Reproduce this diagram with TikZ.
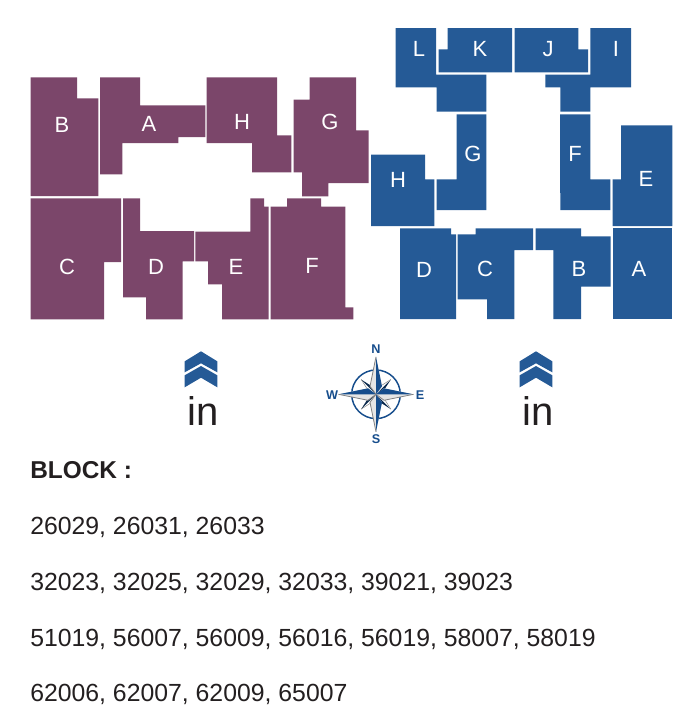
\documentclass[tikz,border=0pt]{standalone}
\usepackage{fontspec}
\setmainfont{Liberation Sans}
\usepackage{tikz}
\definecolor{plumcolor}{RGB}{123,70,106}
\definecolor{seacolor}{RGB}{37,90,150}
\definecolor{inkcolor}{RGB}{35,31,32}
\definecolor{ringcolor}{RGB}{22,77,140}
\tikzset{
  % site plan lots
  lotplum/.style={fill=plumcolor, draw=none},
  lotsea/.style={fill=seacolor, draw=none},
  lotlabel/.style={text=white, font=\fontsize{16.5}{18}\selectfont, inner sep=0pt},
  % entrance markers
  chevron/.style={fill=seacolor, draw=none},
  inlabel/.style={text=inkcolor, font=\fontsize{30}{32}\selectfont, inner sep=0pt, anchor=base},
  % compass rose
  compasslabel/.style={text=ringcolor, font=\fontsize{9.5}{11}\selectfont\bfseries, inner sep=0pt},
  % list of block numbers
  listline/.style={text=inkcolor, font=\fontsize{18.6}{20}\selectfont, inner sep=0pt, anchor=base west},
}
\newcommand{\entrymark}[3]{%
  \fill[chevron] (#1-16.3,361.3) -- (#1,351.3) -- (#1+16.3,361.3) -- (#1+16.3,372.3) -- (#1,363.3) -- (#1-16.3,372.3) -- cycle;
  \fill[chevron] (#1-16.3,375.3) -- (#1,366) -- (#1+16.3,375.3) -- (#1+16.3,387.3) -- (#1,377.7) -- (#1-16.3,387.3) -- cycle;
  \node[inlabel] (#2) at (#1+2,#3) {in};
}
\begin{document}
\begin{tikzpicture}[x=0.75pt, y=-0.75pt]
  \useasboundingbox (0,0) rectangle (700,722);
  % left group
  \fill[lotplum] (30.7,77.3) -- (77,77.3) -- (77,98.3) -- (98.3,98.3) -- (98.3,196) -- (30.7,196) -- cycle;
  \fill[lotplum] (100,77.3) -- (140,77.3) -- (140,105.3) -- (205.3,105.3) -- (205.3,137) -- (178.3,137) -- (178.3,143) -- (122.3,143) -- (122.3,174.3) -- (100,174.3) -- cycle;
  \fill[lotplum] (206.7,77.3) -- (277,77.3) -- (277,135.3) -- (291.3,135.3) -- (291.3,172.3) -- (252,172.3) -- (252,143) -- (206.7,143) -- cycle;
  \fill[lotplum] (309.7,77.3) -- (356,77.3) -- (356,130.3) -- (368.7,130.3) -- (368.7,183) -- (328.3,183) -- (328.3,196.3) -- (302,196.3) -- (302,172.3) -- (293.7,172.3) -- (293.7,99.7) -- (309.7,99.7) -- cycle;
  \fill[lotplum] (30.7,198.3) -- (121,198.3) -- (121,262) -- (104,262) -- (104,319.3) -- (30.7,319.3) -- cycle;
  \fill[lotplum] (123,198.3) -- (140,198.3) -- (140,231) -- (194,231) -- (194,261.3) -- (182.7,261.3) -- (182.7,319.3) -- (146,319.3) -- (146,297.3) -- (123,297.3) -- cycle;
  \fill[lotplum] (195.3,231.7) -- (250.3,231.7) -- (250.3,198.3) -- (264,198.3) -- (264,206.7) -- (268.7,206.7) -- (268.7,319.3) -- (222,319.3) -- (222,284.3) -- (208,284.3) -- (208,261.3) -- (195.3,261.3) -- cycle;
  \fill[lotplum] (270.7,206.7) -- (287,206.7) -- (287,198.3) -- (321,198.3) -- (321,206.7) -- (345.3,206.7) -- (345.3,307.3) -- (353.3,307.3) -- (353.3,319.3) -- (270.7,319.3) -- cycle;
  % right group
  \fill[lotsea] (395.7,28) -- (436,28) -- (436,74.7) -- (486.3,74.7) -- (486.3,111.7) -- (436.7,111.7) -- (436.7,87.3) -- (395.7,87.3) -- cycle;
  \fill[lotsea] (447.7,28) -- (512,28) -- (512,72.3) -- (438.7,72.3) -- (438.7,49.3) -- (447.7,49.3) -- cycle;
  \fill[lotsea] (514.7,28) -- (578.3,28) -- (578.3,49.3) -- (588,49.3) -- (588,72.3) -- (514.7,72.3) -- cycle;
  \fill[lotsea] (590.3,28) -- (631,28) -- (631,87.3) -- (590.3,87.3) -- (590.3,111.7) -- (560.3,111.7) -- (560.3,87.3) -- (545.3,87.3) -- (545.3,74.7) -- (590.3,74.7) -- cycle;
  \fill[lotsea] (456.7,114.3) -- (486.3,114.3) -- (486.3,210) -- (436.7,210) -- (436.7,179.3) -- (456.7,179.3) -- cycle;
  \fill[lotsea] (560,114.3) -- (590.3,114.3) -- (590.3,179.3) -- (610.3,179.3) -- (610.3,210) -- (560.3,210) -- cycle;
  \fill[lotsea] (371,154.7) -- (425,154.7) -- (425,179.3) -- (434.3,179.3) -- (434.3,226) -- (371,226) -- cycle;
  \fill[lotsea] (621,125.3) -- (672.3,125.3) -- (672.3,226) -- (612.5,226) -- (612.5,179.3) -- (621,179.3) -- cycle;
  \fill[lotsea] (400,228.3) -- (451,228.3) -- (451,234.3) -- (456,234.3) -- (456,319) -- (400,319) -- cycle;
  \fill[lotsea] (457.7,234.3) -- (475.7,234.3) -- (475.7,228.3) -- (533,228.3) -- (533,250) -- (514.3,250) -- (514.3,319) -- (487,319) -- (487,299.3) -- (457.7,299.3) -- cycle;
  \fill[lotsea] (535.7,228.3) -- (581,228.3) -- (581,236.3) -- (610.7,236.3) -- (610.7,286.7) -- (581,286.7) -- (581,319) -- (553.3,319) -- (553.3,250) -- (535.7,250) -- cycle;
  \fill[lotsea] (612.7,228.3) -- (672.3,228.3) -- (672.3,319) -- (612.7,319) -- cycle;
  % lot letters
  \foreach \nm/\lx/\ly/\tx in {pB/62/125/B, pA/149/124/A, pH/242/122/H, pG/330/122/G, pC/67/267/C, pD/156/267/D, pE/236/267/E, pF/312/266/F,
      sL/419/49/L, sK/480/49/K, sJ/548/49/J, sI/616/49/I, sG/473/154/G, sH/398/180/H, sF/575/154/F, sE/646/179/E, sD/424/270/D, sC/485/269/C, sB/579/269/B, sA/639/269/A}
    \node[lotlabel] (\nm) at (\lx,\ly) {\tx};
  % ways in
  \entrymark{201}{inleft}{425}
  \entrymark{536}{inright}{425}
  % compass rose
  \begin{scope}[shift={(376,394.3)}]
    \draw[ringcolor, line width=1.1pt] (0,0) circle (24.3);
    \foreach \ang in {45,135,225,315} {
      \begin{scope}[rotate=\ang]
        \fill[white] (0,0) -- (5,-3.5) -- (21,0) -- (5,3.5) -- cycle;
        \fill[ringcolor!55!black] (0,0) -- (21,0) -- (5,3.5) -- cycle;
        \draw[gray, line width=0.35pt] (0,0) -- (5,-3.5) -- (21,0);
      \end{scope}
    }
    \foreach \ang/\sd in {0/-1,90/1,180/1,270/-1} {
      \begin{scope}[rotate=\ang]
        \fill[gray!20] (0,0) -- (8,-6*\sd) -- (37.5,0) -- (8,6*\sd) -- cycle;
        \fill[ringcolor] (0,0) -- (37.5,0) -- (8,6*\sd) -- cycle;
        \draw[gray, line width=0.6pt] (0,0) -- (8,-6*\sd) -- (37.5,0);
      \end{scope}
    }
    \node[compasslabel] (north) at (0,-45.5) {N};
    \node[compasslabel] (south) at (0,45) {S};
    \node[compasslabel] (west) at (-44,0.5) {W};
    \node[compasslabel] (east) at (44,0.5) {E};
  \end{scope}
  % block numbers
  \node[listline, font=\fontsize{18.3}{20}\selectfont\bfseries] (title) at (30,478) {BLOCK :};
  \node[listline] (lineone) at (30,534) {26029, 26031, 26033};
  \node[listline] (linetwo) at (30,590) {32023, 32025, 32029, 32033, 39021, 39023};
  \node[listline] (linethree) at (30,646) {51019, 56007, 56009, 56016, 56019, 58007, 58019};
  \node[listline] (linefour) at (30,701) {62006, 62007, 62009, 65007};
\end{tikzpicture}
\end{document}
